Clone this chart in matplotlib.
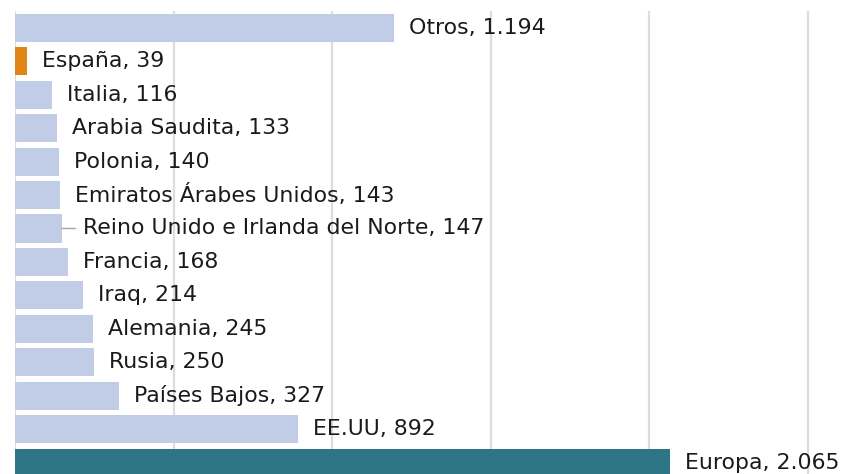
import matplotlib
matplotlib.use("Agg")
import matplotlib.pyplot as plt

categories = ["Otros", "España", "Italia", "Arabia Saudita", "Polonia",
              "Emiratos Árabes Unidos", "Reino Unido e Irlanda del Norte",
              "Francia", "Iraq", "Alemania", "Rusia", "Países Bajos",
              "EE.UU", "Europa"]
values = [1194, 39, 116, 133, 140, 143, 147, 168, 214, 245, 250, 327, 892, 2065]
labels = ["Otros, 1.194", "España, 39", "Italia, 116", "Arabia Saudita, 133",
          "Polonia, 140", "Emiratos Árabes Unidos, 143",
          "Reino Unido e Irlanda del Norte, 147", "Francia, 168", "Iraq, 214",
          "Alemania, 245", "Rusia, 250", "Países Bajos, 327", "EE.UU, 892",
          "Europa, 2.065"]

light = "#C1CCE6"
colors = [light] * len(categories)
colors[1] = "#E08617"
colors[-1] = "#2E7586"

W, H = 842, 474
fig = plt.figure(figsize=(W / 100, H / 100), dpi=100)
top_px = 11
unit_px = 33.46
n = len(categories)
ax_h_px = n * unit_px
left_px = 15
ax = fig.add_axes([left_px / W, 1 - (top_px + ax_h_px) / H,
                   (W - left_px) / W, ax_h_px / H])

ypos = list(range(n))
ax.barh(ypos, values, height=0.84, color=colors, zorder=3)
ax.set_ylim(n - 0.5, -0.5)
xmax = (W - left_px) / 0.3172
ax.set_xlim(0, xmax)
ax.set_xticks([0, 500, 1000, 1500, 2000, 2500])
ax.grid(axis="x", color="#DCDCDC", linewidth=1.6, zorder=0)
ax.tick_params(left=False, bottom=False, labelleft=False, labelbottom=False)
for s in ax.spines.values():
    s.set_visible(False)

for i, (v, lab) in enumerate(zip(values, labels)):
    off = 15
    if i == 6:
        off = 21
        ax.annotate("", xy=(v, i), xytext=(14, 0), textcoords="offset pixels",
                    arrowprops=dict(arrowstyle="-", color="#A6A6A6", lw=1,
                                    shrinkA=0, shrinkB=0))
    ax.annotate(lab, xy=(v, i), xytext=(off, 0), textcoords="offset pixels",
                va="center", ha="left", fontsize=15.8, color="#1A1A1A",
                family="DejaVu Sans", annotation_clip=False)

fig.savefig("out.png", dpi=100)
